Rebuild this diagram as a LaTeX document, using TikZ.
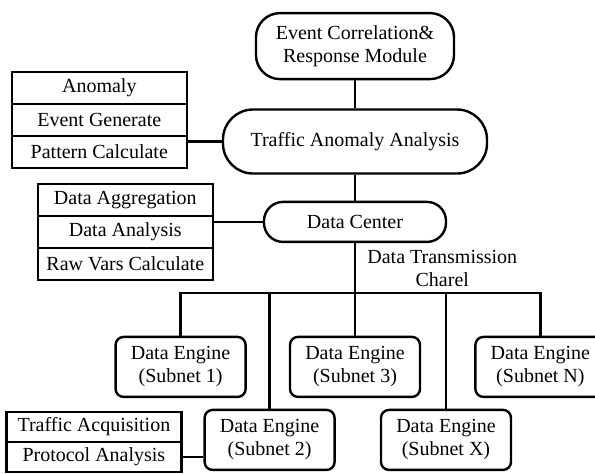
\documentclass[tikz,border=0pt]{standalone}
\usepackage{fontspec}
\setmainfont{Liberation Serif}
\usepackage{tikz}
\usetikzlibrary{positioning}

\begin{document}
\begin{tikzpicture}[
    module/.style={rectangle, draw, line width=1.2pt, text centered, align=center},
    engine/.style={rectangle, draw, line width=1.2pt, rounded corners=4pt, minimum width=65pt, minimum height=30pt, align=center},
    cell/.style={rectangle, draw, line width=1.2pt, outer sep=0pt, inner sep=0pt, minimum width=87.5pt, minimum height=16pt},
    link/.style={line width=1.2pt},
    font=\fontsize{10}{11.5}\selectfont
]
\useasboundingbox (-177.5pt,70.75pt) rectangle (120pt,-165.75pt);

% central chain
\node[module, minimum width=132pt, minimum height=32pt, rounded corners=15pt] (traffic) {Traffic Anomaly Analysis};
\node[module, minimum width=99pt, minimum height=33pt, rounded corners=12pt, above=14pt of traffic] (ecr) {Event Correlation\&\\Response Module};
\node[module, minimum width=91pt, minimum height=20pt, rounded corners=9.5pt, below=13pt of traffic] (dc) {Data Center};

% anomaly functions
\node[cell, left=17.5pt of traffic, yshift=10.75pt] (evgen) {Event Generate};
\node[cell, above=0pt of evgen] (anom) {Anomaly};
\node[cell, below=0pt of evgen] (patcalc) {Pattern Calculate};

% data center functions
\node[cell, left=25pt of dc, yshift=-5pt] (danal) {Data Analysis};
\node[cell, above=0pt of danal] (dagg) {Data Aggregation};
\node[cell, below=0pt of danal] (rawvars) {Raw Vars Calculate};

% data engines
\node[engine, below=46.3pt of dc] (de3) {Data Engine\\(Subnet 3)};
\node[engine, left=21pt of de3] (de1) {Data Engine\\(Subnet 1)};
\node[engine, right=26.5pt of de3] (deN) {Data Engine\\(Subnet N)};
\node[engine, below=5.3pt of de1, xshift=44.5pt] (de2) {Data Engine\\(Subnet 2)};
\node[engine, below=5.3pt of de3, xshift=45.5pt] (deX) {Data Engine\\(Subnet X)};

% engine functions
\node[cell, minimum height=15pt, left=11pt of de2, yshift=6.5pt] (tacq) {Traffic Acquisition};
\node[cell, minimum height=15pt, below=0pt of tacq] (proto) {Protocol Analysis};

% transmission bus
\coordinate[below=25pt of dc] (bus);
\node[inner sep=0pt, align=center, above right=3pt and 6pt of bus] (dtc) {Data Transmission\\Charel};

\draw[link] (ecr) -- (traffic);
\draw[link] (traffic) -- (dc);
\draw[link] (dc) -- (de3);
\draw[link] (de1) |- (bus) -| (deN);
\draw[link] (de2.north |- bus) -- (de2);
\draw[link] (deX.north |- bus) -- (deX);

\draw[link] (patcalc.east |- traffic.west) -- (traffic.west);
\draw[link] (danal.east |- dc.west) -- (dc.west);
\draw[link] (proto.east) -- (proto.east -| de2.west);
\end{tikzpicture}
\end{document}
